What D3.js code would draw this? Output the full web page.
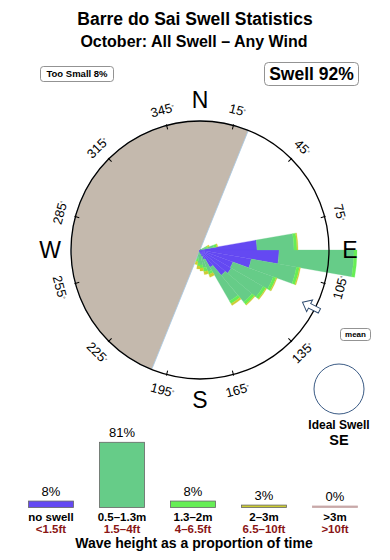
<!DOCTYPE html>
<html>
<head>
<meta charset="utf-8">
<script src="https://cdn.jsdelivr.net/npm/d3@7"></script>
<style>
  body { margin: 0; background: #fff; }
  svg { display: block; font-family: "Liberation Sans", Arial, Helvetica, sans-serif; }
</style>
</head>
<body>
<script>
// swell rose: bin start bearing (deg), 10 deg wide
const dirBins = [60, 70, 80, 90, 100, 110, 120, 130, 140, 150, 160, 170, 180, 190];
const binWidth = 10;
// % of time per band for each bin
const roseNone  = [0,   0,   5.7, 7.9, 5.2, 3.5, 3.6, 3.3, 2.0, 1.0, 0.6, 0.4, 0.3, 0.2];
const roseSmall = [0.6, 1.4, 3.7, 7.5, 4.6, 4.3, 3.7, 3.5, 3.9, 1.3, 1.2, 1.1, 1.0, 0.7];
const roseMid   = [0.2, 0.3, 0.3, 0.3, 0.3, 0.3, 0.3, 0.3, 0.3, 0.3, 0.4, 0.3, 0.3, 0.3];
const roseBig   = [0.2, 0.1, 0.1, 0,   0.1, 0.1, 0.1, 0.1, 0.2, 0.3, 0.3, 0.3, 0.3, 0.3];
const roseHuge  = [0,   0,   0,   0,   0,   0,   0,   0,   0,   0,   0,   0,   0,   0];
const bandKeys = ["none", "small", "mid", "big", "huge"];
const bandColors = ["#6449f2", "#66cc88", "#66ee55", "#cccc33", "#c8a8a8"];

// directions blocked from the coast
const shadowFrom = 202;
const shadowTo = 382;
const meanDir = 117;

const tickDirs = [15, 45, 75, 105, 135, 165, 195, 225, 255, 285, 315, 345];
const cardinals = ["N", "E", "S", "W"];
const cardinalDirs = [0, 90, 180, 270];

// wave height bars
const barLabels = ["no swell", "0.5\u20131.3m", "1.3\u20132m", "2\u20133m", ">3m"];
const barFeet = ["<1.5ft", "1.5\u20134ft", "4\u20136.5ft", "6.5\u201310ft", ">10ft"];
const barPct = [8, 81, 8, 3, 0];

const width = 390, height = 560;
const cx = 200, cy = 250, R = 129;
const toRad = d => d * Math.PI / 180;

const svg = d3.select("body").append("svg")
  .attr("width", width)
  .attr("height", height);

// titles
svg.append("text")
  .attr("x", 195).attr("y", 25)
  .attr("text-anchor", "middle")
  .style("font-size", "17.5px").style("font-weight", "bold")
  .text("Barre do Sai Swell Statistics");
svg.append("text")
  .attr("x", 194).attr("y", 47)
  .attr("text-anchor", "middle")
  .style("font-size", "16px").style("font-weight", "bold")
  .text("October: All Swell \u2013 Any Wind");

function labelBox(x, y, w, h, rx, size, txt) {
  svg.append("rect")
    .attr("x", x).attr("y", y).attr("width", w).attr("height", h)
    .attr("rx", rx)
    .attr("fill", "#fff").attr("stroke", "#777").attr("stroke-width", 0.8);
  svg.append("text")
    .attr("x", x + w / 2).attr("y", y + h / 2)
    .attr("dy", "0.36em")
    .attr("text-anchor", "middle")
    .style("font-size", size + "px").style("font-weight", "bold")
    .text(txt);
}
labelBox(40.5, 66.5, 73, 15, 3, 9.5, "Too Small 8%");
labelBox(264.5, 62.5, 94, 23, 4, 17.5, "Swell 92%");
labelBox(340.5, 328.5, 30, 12, 3, 8, "mean");

const rose = svg.append("g").attr("transform", `translate(${cx},${cy})`);

rose.append("path")
  .attr("d", d3.arc()({ innerRadius: 0, outerRadius: R, startAngle: toRad(shadowFrom), endAngle: toRad(shadowTo) }))
  .attr("fill", "#c4b9ad")
  .attr("stroke", "#a6c8e4")
  .attr("stroke-width", 0.8);

const table = dirBins.map((d, i) => ({
  dir: d,
  none: roseNone[i],
  small: roseSmall[i],
  mid: roseMid[i],
  big: roseBig[i],
  huge: roseHuge[i]
}));
const stacked = d3.stack().keys(bandKeys)(table);
const rScale = d3.scaleLinear().domain([0, 16]).range([0, 160]);
const color = d3.scaleOrdinal().domain(bandKeys).range(bandColors);

const wedge = d3.arc()
  .innerRadius(d => rScale(d[0]))
  .outerRadius(d => rScale(d[1]))
  .startAngle(d => toRad(d.data.dir))
  .endAngle(d => toRad(d.data.dir + binWidth));

rose.selectAll("g.band")
  .data(stacked)
  .join("g")
  .attr("class", "band")
  .attr("fill", d => color(d.key))
  .attr("stroke", d => color(d.key))
  .attr("stroke-width", 0.3)
  .selectAll("path")
  .data(d => d.filter(s => s[1] > s[0]))
  .join("path")
  .attr("d", wedge);

rose.append("circle")
  .attr("r", R)
  .attr("fill", "none")
  .attr("stroke", "#000")
  .attr("stroke-width", 1.3);

rose.selectAll("line.tick")
  .data(tickDirs)
  .join("line")
  .attr("class", "tick")
  .attr("y1", -R + 4).attr("y2", -R - 1)
  .attr("transform", d => `rotate(${d})`)
  .attr("stroke", "#000").attr("stroke-width", 1);

const textRot = d => (d <= 90 || d >= 270) ? (d > 180 ? d - 360 : d) : d - 180;
const degLabels = rose.selectAll("text.deg")
  .data(tickDirs)
  .join("text")
  .attr("class", "deg")
  .attr("text-anchor", "middle")
  .attr("dy", "0.35em")
  .attr("transform", d => `translate(${145 * Math.sin(toRad(d))},${-145 * Math.cos(toRad(d))}) rotate(${textRot(d)})`)
  .style("font-size", "13px");
degLabels.append("tspan").text(d => d);
degLabels.append("tspan").attr("dy", "-0.45em").style("font-size", "6px").text("\u00b0");

rose.selectAll("text.card")
  .data(cardinals)
  .join("text")
  .attr("class", "card")
  .attr("x", (d, i) => 150 * Math.sin(toRad(cardinalDirs[i])))
  .attr("y", (d, i) => -150 * Math.cos(toRad(cardinalDirs[i])))
  .attr("dy", "0.36em")
  .attr("text-anchor", "middle")
  .style("font-size", "23px")
  .text(d => d);

// mean direction arrow, pointing inwards
rose.append("path")
  .attr("d", "M0,-115 L-6.5,-123 L-2.5,-123 L-2.5,-134 L2.5,-134 L2.5,-123 L6.5,-123 Z")
  .attr("transform", `rotate(${meanDir})`)
  .attr("fill", "#fff")
  .attr("stroke", "#2d4a6e")
  .attr("stroke-width", 1);

// ideal swell marker
svg.append("circle")
  .attr("cx", 339).attr("cy", 389).attr("r", 25)
  .attr("fill", "none").attr("stroke", "#3b5b85").attr("stroke-width", 1);
svg.append("text")
  .attr("x", 339).attr("y", 429)
  .attr("text-anchor", "middle")
  .style("font-size", "12px").style("font-weight", "bold")
  .text("Ideal Swell");
svg.append("text")
  .attr("x", 339).attr("y", 445)
  .attr("text-anchor", "middle")
  .style("font-size", "14.5px").style("font-weight", "bold")
  .text("SE");

// bar chart
const x = d3.scaleBand().domain(barLabels).range([28.5, 357.5]).paddingInner(0.366).paddingOuter(0);
const y = d3.scaleLinear().domain([0, 100]).range([507.5, 427]);

const bars = svg.append("g");
bars.selectAll("rect")
  .data(barPct)
  .join("rect")
  .attr("x", (d, i) => x(barLabels[i]))
  .attr("width", x.bandwidth())
  .attr("y", d => Math.min(y(d), y(0) - 1.5))
  .attr("height", d => Math.max(y(0) - y(d), 1.5))
  .attr("fill", (d, i) => bandColors[i])
  .attr("stroke", (d, i) => d > 0 ? "#666" : bandColors[i])
  .attr("stroke-width", 0.8);

bars.selectAll("text.pct")
  .data(barPct)
  .join("text")
  .attr("class", "pct")
  .attr("x", (d, i) => x(barLabels[i]) + x.bandwidth() / 2)
  .attr("y", d => Math.min(y(d), y(0) - 1.5) - 5)
  .attr("text-anchor", "middle")
  .style("font-size", "13px")
  .text(d => d + "%");

bars.selectAll("text.cat")
  .data(barLabels)
  .join("text")
  .attr("class", "cat")
  .attr("x", d => x(d) + x.bandwidth() / 2)
  .attr("y", 520.5)
  .attr("text-anchor", "middle")
  .style("font-size", "11.5px").style("font-weight", "bold")
  .text(d => d);

bars.selectAll("text.ft")
  .data(barFeet)
  .join("text")
  .attr("class", "ft")
  .attr("x", (d, i) => x(barLabels[i]) + x.bandwidth() / 2)
  .attr("y", 532.5)
  .attr("text-anchor", "middle")
  .attr("fill", "#8a1515")
  .style("font-size", "11.5px").style("font-weight", "bold")
  .text(d => d);

svg.append("text")
  .attr("x", 194).attr("y", 548)
  .attr("text-anchor", "middle")
  .style("font-size", "14px").style("font-weight", "bold")
  .text("Wave height as a proportion of time");
</script>
</body>
</html>
